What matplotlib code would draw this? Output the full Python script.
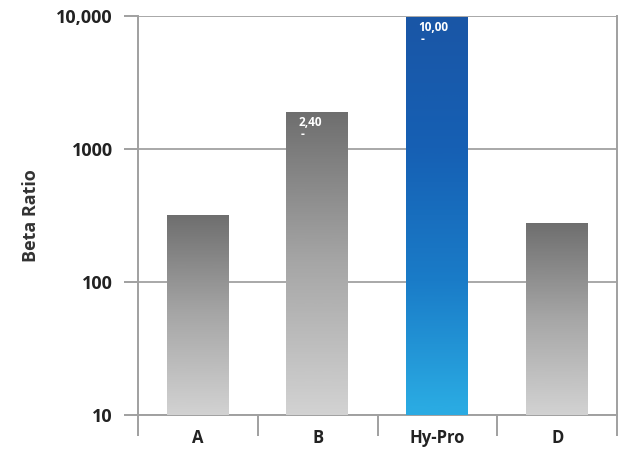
import numpy as np
import matplotlib
matplotlib.use("Agg")
import matplotlib.pyplot as plt
from matplotlib.colors import LinearSegmentedColormap

# datos
categories = ["A", "B", "Hy-Pro", "D"]
beta_ratio = [325, 1930, 10000, 283]
bar_labels = ["", "2,40", "10,00", ""]
highlight = "Hy-Pro"

plt.rcParams['font.family'] = ['Open Sans', 'DejaVu Sans']

fig = plt.figure(figsize=(6.24, 4.5), dpi=100)
ax = fig.add_axes([0.221, 0.078, 0.768, 0.886])
ax.set_yscale('log')
ax.set_ylim(10, 10000)
ax.set_xlim(-0.5, len(categories) - 0.5)

gray_cmap = LinearSegmentedColormap.from_list("g", ["#d2d2d2", "#a6a6a6", "#6e6e6e"])
blue_cmap = LinearSegmentedColormap.from_list("b", ["#2aaae2", "#1a7cc8", "#1660b4", "#1a56a6"])

x = np.arange(len(categories))
bars = ax.bar(x, beta_ratio, width=0.52, bottom=10, color="none", zorder=3)

for rect, cat, val, lab in zip(bars, categories, beta_ratio, bar_labels):
    cmap = blue_cmap if cat == highlight else gray_cmap
    x0 = rect.get_x()
    x1 = x0 + rect.get_width()
    # degradado lineal en pixeles (eje log)
    yy = np.linspace(10, val, 3000)
    grad = (np.log10(yy / 10) / np.log10(val / 10)).reshape(-1, 1)
    im = ax.imshow(grad, cmap=cmap, origin='lower', aspect='auto',
                   extent=(x0, x1, 10, val), zorder=3, interpolation='bilinear')
    im.set_clip_path(rect)
    if lab:
        ax.annotate(lab, (x0, val), xytext=(12, -5), textcoords='offset pixels',
                    ha='left', va='top', color='white', fontsize=8.5,
                    fontweight='bold', zorder=5)
        ax.annotate("-", (x0, val), xytext=(14, -17), textcoords='offset pixels',
                    ha='left', va='top', color='white', fontsize=8.5,
                    fontweight='bold', zorder=5)

ax.set_xlim(-0.5, len(categories) - 0.5)
ax.set_ylim(10, 10000)

# rejilla y ejes
ax.set_yticks([10, 100, 1000, 10000])
ax.set_yticklabels(["10", "100", "1000", "10,000"])
ax.yaxis.set_minor_locator(matplotlib.ticker.NullLocator())
ax.grid(axis='y', color="#a8a8a8", linewidth=1.4, zorder=1)
for s in ["left", "right", "bottom"]:
    ax.spines[s].set_color("#a0a0a0")
    ax.spines[s].set_linewidth(1.4)
ax.spines["top"].set_visible(False)

ax.set_xticks(x)
ax.set_xticklabels(categories)
ax.set_xticks(np.arange(len(categories) + 1) - 0.5, minor=True)
ax.tick_params(axis='x', which='major', length=0, pad=10)
ax.tick_params(axis='x', which='minor', length=15, width=1.4, color="#a0a0a0")
ax.tick_params(axis='y', which='major', length=10, width=1.4, color="#a0a0a0", pad=8)

for t in ax.get_yticklabels():
    t.set_fontsize(13)
    t.set_fontweight('bold')
    t.set_color("#222222")
for t in ax.get_xticklabels():
    t.set_fontsize(12)
    t.set_fontweight('bold')
    t.set_color("#222222")

ax.set_ylabel("Beta Ratio", fontsize=13, fontweight='bold', color="#333333", labelpad=12)

plt.savefig("out.png", dpi=100)
